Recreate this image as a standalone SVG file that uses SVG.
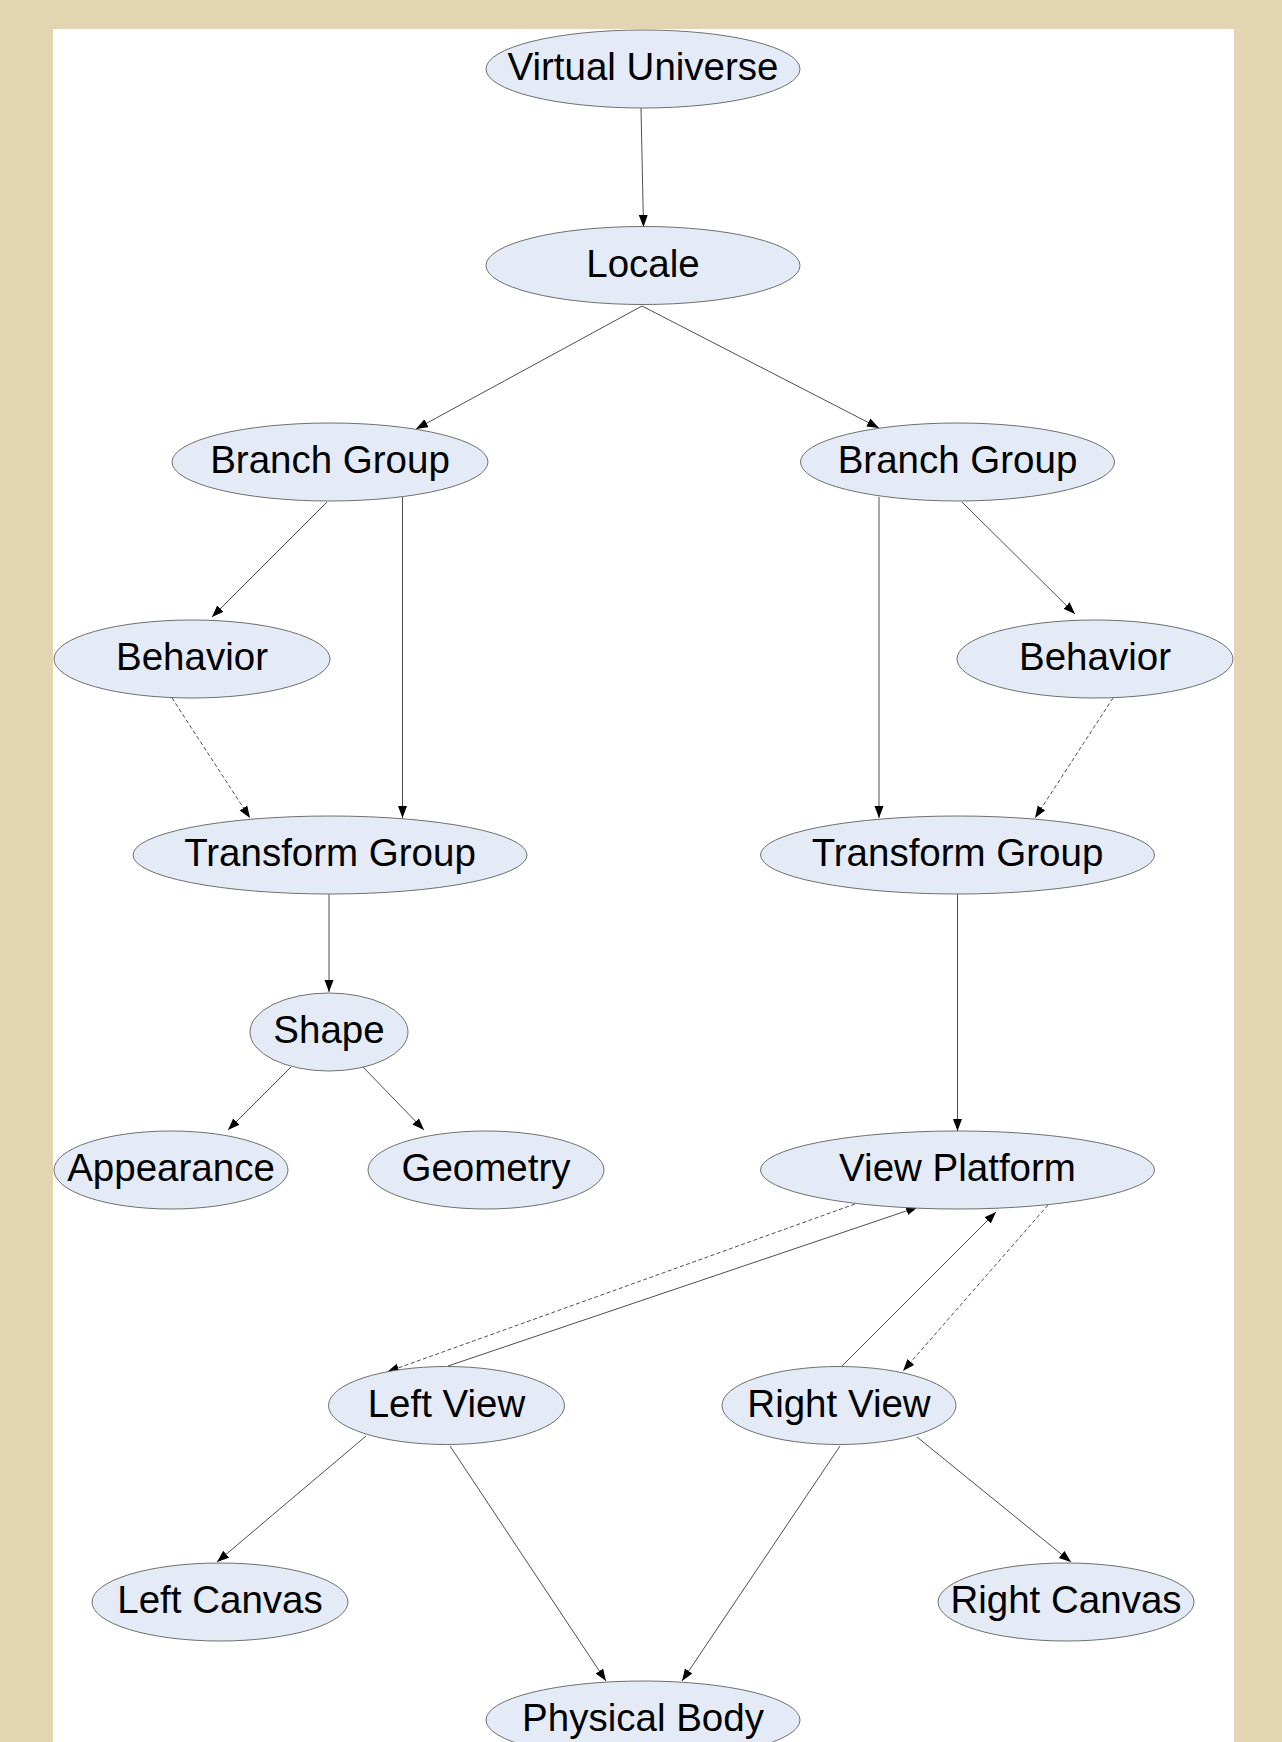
<svg xmlns="http://www.w3.org/2000/svg" width="1282" height="1742" viewBox="0 0 1282 1742">
<defs>
<style>
.node ellipse{fill:#E4EBF6;stroke:#6F6F6F;stroke-width:1}
.node text{font-family:"Liberation Sans",Arial,sans-serif;font-size:38.5px;fill:#000;text-anchor:middle}
.edges line{stroke:#3A3A3A;stroke-width:0.9;fill:none;marker-end:url(#arrow)}
.edges line.dash{stroke-dasharray:4 2.5}
</style>
<marker id="arrow" markerUnits="userSpaceOnUse" markerWidth="13" markerHeight="10" refX="12" refY="4.5" orient="auto">
<path d="M0,0 L12,4.5 L0,9 z" fill="#000"/>
</marker>
</defs>
<rect x="0" y="0" width="1282" height="1742" fill="#E3D5B1"/>
<rect x="53" y="29" width="1181" height="1713" fill="#FFFFFF"/>
<g class="edges">
<line x1="641" y1="108" x2="643.5" y2="227"/>
<line x1="642" y1="306" x2="416" y2="429"/>
<line x1="642" y1="306" x2="879" y2="428"/>
<line x1="327" y1="502" x2="212" y2="617"/>
<line x1="402.5" y1="497" x2="402.5" y2="818"/>
<line class="dash" x1="172" y1="698" x2="250" y2="818"/>
<line x1="962" y1="502" x2="1075" y2="614"/>
<line x1="879" y1="497" x2="879" y2="818"/>
<line class="dash" x1="1113" y1="698" x2="1035" y2="818"/>
<line x1="329" y1="894" x2="329" y2="992"/>
<line x1="957.5" y1="894" x2="957.5" y2="1131"/>
<line x1="291" y1="1067" x2="228" y2="1130"/>
<line x1="363" y1="1067" x2="424" y2="1130"/>
<line class="dash" x1="855" y1="1204" x2="387" y2="1372"/>
<line x1="448" y1="1366" x2="918" y2="1207"/>
<line x1="842" y1="1366" x2="996" y2="1212"/>
<line class="dash" x1="1048" y1="1205" x2="903" y2="1371"/>
<line x1="366" y1="1436" x2="217" y2="1562"/>
<line x1="450" y1="1446" x2="606" y2="1681"/>
<line x1="840" y1="1446" x2="682" y2="1681"/>
<line x1="917" y1="1437" x2="1071" y2="1562"/>
</g>
<g id="virtual-universe" class="node"><ellipse cx="643" cy="69" rx="157" ry="39"/><text x="643" y="80">Virtual Universe</text></g>
<g id="locale" class="node"><ellipse cx="643" cy="265.5" rx="157" ry="39"/><text x="643" y="276.5">Locale</text></g>
<g id="branch-group-left" class="node"><ellipse cx="330" cy="462" rx="158" ry="39"/><text x="330" y="473">Branch Group</text></g>
<g id="branch-group-right" class="node"><ellipse cx="957.5" cy="462" rx="157" ry="39"/><text x="957.5" y="473">Branch Group</text></g>
<g id="behavior-left" class="node"><ellipse cx="192" cy="659" rx="138" ry="39"/><text x="192" y="670">Behavior</text></g>
<g id="behavior-right" class="node"><ellipse cx="1095" cy="659" rx="138" ry="39"/><text x="1095" y="670">Behavior</text></g>
<g id="transform-group-left" class="node"><ellipse cx="330" cy="855" rx="197" ry="39"/><text x="330" y="866">Transform Group</text></g>
<g id="transform-group-right" class="node"><ellipse cx="957.5" cy="855" rx="197" ry="39"/><text x="957.5" y="866">Transform Group</text></g>
<g id="shape" class="node"><ellipse cx="329" cy="1032" rx="79" ry="39"/><text x="329" y="1043">Shape</text></g>
<g id="appearance" class="node"><ellipse cx="171" cy="1170" rx="117" ry="39"/><text x="171" y="1181">Appearance</text></g>
<g id="geometry" class="node"><ellipse cx="486" cy="1170" rx="118" ry="39"/><text x="486" y="1181">Geometry</text></g>
<g id="view-platform" class="node"><ellipse cx="957.5" cy="1170" rx="197" ry="39"/><text x="957.5" y="1181">View Platform</text></g>
<g id="left-view" class="node"><ellipse cx="446.5" cy="1405.5" rx="118" ry="39"/><text x="446.5" y="1416.5">Left View</text></g>
<g id="right-view" class="node"><ellipse cx="839" cy="1405.5" rx="117" ry="39"/><text x="839" y="1416.5">Right View</text></g>
<g id="left-canvas" class="node"><ellipse cx="220" cy="1602" rx="128" ry="39"/><text x="220" y="1613">Left Canvas</text></g>
<g id="right-canvas" class="node"><ellipse cx="1066" cy="1602" rx="128" ry="39"/><text x="1066" y="1613">Right Canvas</text></g>
<g id="physical-body" class="node"><ellipse cx="643" cy="1720" rx="157" ry="39"/><text x="643" y="1731">Physical Body</text></g>
</svg>
